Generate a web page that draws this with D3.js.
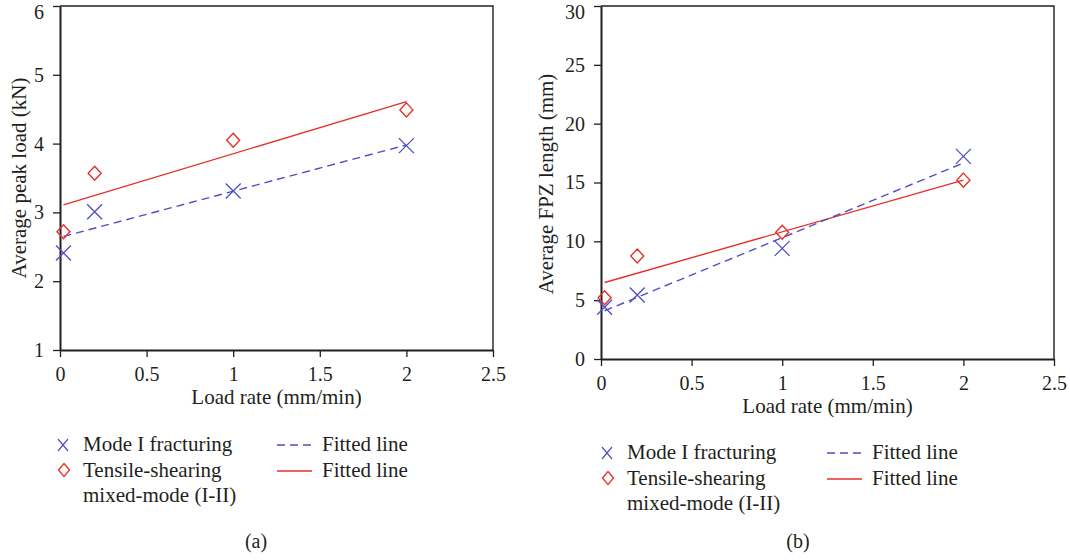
<!DOCTYPE html>
<html>
<head>
<meta charset="utf-8">
<script src="https://cdn.jsdelivr.net/npm/d3@7/dist/d3.min.js"></script>
<style>
  html, body { margin: 0; padding: 0; background: #fff; }
  svg { display: block; }
  text { font-family: "Liberation Serif", "Times New Roman", serif; fill: #231f20; }
</style>
</head>
<body>
<svg id="fig" width="1070" height="560"></svg>
<script>
// Load rates (mm/min)
const loadRates = [0.02, 0.2, 1, 2];
const xTicks = [0, 0.5, 1, 1.5, 2, 2.5];
const xTickLabels = ["0", "0.5", "1", "1.5", "2", "2.5"];

// (a) average peak load (kN)
const peakModeI = [2.41, 3.01, 3.31, 3.97];
const peakMixed = [2.72, 3.57, 4.05, 4.49];
const peakTicks = [1, 2, 3, 4, 5, 6];
// fitted line values at the first and last load rate
const fitRates = [0.02, 2];
const peakFitModeI = [2.65, 3.98];
const peakFitMixed = [3.11, 4.61];

// (b) average FPZ length (mm)
const fpzModeI = [4.4, 5.44, 9.4, 17.22];
const fpzMixed = [5.2, 8.75, 10.77, 15.2];
const fpzTicks = [0, 5, 10, 15, 20, 25, 30];
const fpzFitModeI = [4.1, 16.65];
const fpzFitMixed = [6.5, 15.2];

const legendLabels = ["Mode I fracturing", "Tensile-shearing", "mixed-mode (I-II)", "Fitted line"];

const BLUE = "#4f4fc4";
const RED = "#e4302a";

const svg = d3.select("#fig");

function drawPanel(p) {
  const x = d3.scaleLinear().domain([0, 2.5]).range([p.left, p.right]);
  const y = d3.scaleLinear().domain(p.yDomain).range([p.bottom, p.top]);
  const g = svg.append("g");

  // frame (top and right edges)
  g.append("path")
    .attr("d", `M${p.left},${p.top}H${p.right}V${p.bottom}`)
    .attr("fill", "none").attr("stroke", "#231f20").attr("stroke-width", 1.4);

  const xAxis = d3.axisBottom(x).tickValues(xTicks)
    .tickFormat((d, i) => xTickLabels[i]).tickSizeInner(7).tickSizeOuter(0).tickPadding(10);
  const yAxis = d3.axisLeft(y).tickValues(p.yTicks)
    .tickFormat(d3.format("d")).tickSizeInner(7).tickSizeOuter(0).tickPadding(9);

  const gx = g.append("g").attr("transform", `translate(0,${p.bottom})`).call(xAxis);
  const gy = g.append("g").attr("transform", `translate(${p.left},0)`).call(yAxis);
  [gx, gy].forEach(a => {
    a.attr("font-family", null);
    a.select(".domain").attr("stroke", "#231f20").attr("stroke-width", 2);
    a.selectAll(".tick line").attr("stroke", "#231f20").attr("stroke-width", 1.3);
    a.selectAll(".tick text").attr("font-size", 20).attr("fill", "#231f20");
  });
  // keep the top label inside the page
  gy.selectAll(".tick text").filter(d => d === p.yDomain[1]).attr("dy", "0.62em");

  // axis titles
  g.append("text").attr("x", (p.left + p.right) / 2).attr("y", p.xTitleY)
    .attr("text-anchor", "middle").attr("font-size", 21).text("Load rate (mm/min)");
  g.append("text")
    .attr("transform", `translate(${p.yTitleX},${p.yTitleCY}) rotate(-90)`)
    .attr("text-anchor", "middle").attr("font-size", 21).text(p.yTitle);

  // fitted lines
  const line = d3.line().x(d => x(d[0])).y(d => y(d[1]));
  g.append("path").datum(d3.zip(fitRates, p.fitMixed)).attr("d", line)
    .attr("fill", "none").attr("stroke", RED).attr("stroke-width", 1.4);
  g.append("path").datum(d3.zip(fitRates, p.fitModeI)).attr("d", line)
    .attr("fill", "none").attr("stroke", BLUE).attr("stroke-width", 1.4)
    .attr("stroke-dasharray", "8,5");

  // data markers
  g.selectAll(".dia").data(d3.zip(loadRates, p.mixed)).join("path")
    .attr("transform", d => `translate(${x(d[0])},${y(d[1])})`)
    .attr("d", "M0,-7L6.5,0L0,7L-6.5,0Z")
    .attr("fill", "none").attr("stroke", RED).attr("stroke-width", 1.4);
  g.selectAll(".cross").data(d3.zip(loadRates, p.modeI)).join("path")
    .attr("transform", d => `translate(${x(d[0])},${y(d[1])})`)
    .attr("d", "M-7.5,-7.5L7.5,7.5M-7.5,7.5L7.5,-7.5")
    .attr("fill", "none").attr("stroke", BLUE).attr("stroke-width", 1.3);

  // legend
  const L = p.legend;
  const lg = g.append("g").attr("transform", `translate(${L.x},${L.y})`);
  lg.append("path").attr("d", "M-5,-6L5,6M-5,6L5,-6")
    .attr("fill", "none").attr("stroke", BLUE).attr("stroke-width", 1.2);
  lg.append("path").attr("transform", "translate(1,25)").attr("d", "M0,-6.5L5.5,0L0,6.5L-5.5,0Z")
    .attr("fill", "none").attr("stroke", RED).attr("stroke-width", 1.3);
  lg.append("text").attr("x", 20).attr("y", 6).attr("font-size", 21).text(legendLabels[0]);
  lg.append("text").attr("x", 20).attr("y", 31.5).attr("font-size", 21).text(legendLabels[1]);
  lg.append("text").attr("x", 20).attr("y", 57).attr("font-size", 21).text(legendLabels[2]);
  lg.append("line").attr("x1", L.lineX).attr("x2", L.lineX + 35).attr("y1", 0).attr("y2", 0)
    .attr("stroke", BLUE).attr("stroke-width", 1.4).attr("stroke-dasharray", "8,5");
  lg.append("line").attr("x1", L.lineX).attr("x2", L.lineX + 35).attr("y1", 26).attr("y2", 26)
    .attr("stroke", RED).attr("stroke-width", 1.4);
  lg.append("text").attr("x", L.lineX + 45).attr("y", 6).attr("font-size", 21).text(legendLabels[3]);
  lg.append("text").attr("x", L.lineX + 45).attr("y", 31.5).attr("font-size", 21).text(legendLabels[3]);

  // panel caption
  g.append("text").attr("x", p.captionX).attr("y", 548).attr("text-anchor", "middle")
    .attr("font-size", 20).text(p.caption);
}

drawPanel({
  left: 60, right: 493, top: 6, bottom: 350,
  yDomain: [1, 6], yTicks: peakTicks,
  modeI: peakModeI, mixed: peakMixed,
  fitModeI: peakFitModeI, fitMixed: peakFitMixed,
  yTitle: "Average peak load (kN)", yTitleX: 26, yTitleCY: 178, xTitleY: 404,
  legend: { x: 63, y: 445, lineX: 214 },
  caption: "(a)", captionX: 256
});

drawPanel({
  left: 601, right: 1054, top: 6, bottom: 359,
  yDomain: [0, 30], yTicks: fpzTicks,
  modeI: fpzModeI, mixed: fpzMixed,
  fitModeI: fpzFitModeI, fitMixed: fpzFitMixed,
  yTitle: "Average FPZ length (mm)", yTitleX: 553, yTitleCY: 184, xTitleY: 413,
  legend: { x: 607, y: 453, lineX: 220 },
  caption: "(b)", captionX: 798
});
</script>
</body>
</html>
